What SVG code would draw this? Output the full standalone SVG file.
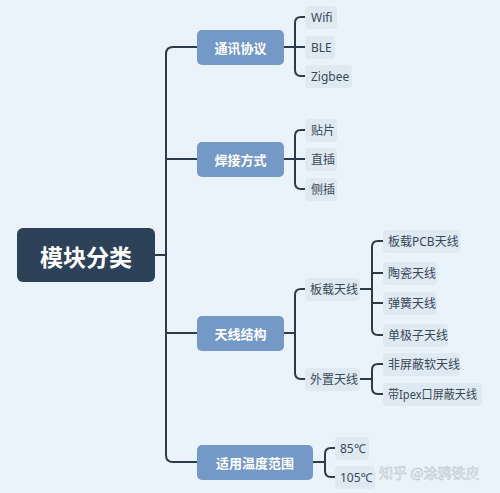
<svg xmlns="http://www.w3.org/2000/svg" width="500" height="493" viewBox="0 0 500 493">
<style>
.l1 rect{fill:#7499C6}
.l1 text{fill:#fff;font-family:"Noto Sans CJK SC","Noto Sans",sans-serif;font-size:13px;font-weight:bold;text-anchor:middle;dominant-baseline:central}
.c rect{fill:#DEE9F2}
.c text{fill:#3B4856;font-family:"Noto Sans","Noto Sans CJK SC",sans-serif;font-size:12px;dominant-baseline:central}
.con path{fill:none;stroke:#2C3B4C;stroke-width:2;stroke-linecap:round}
</style>
<rect width="500" height="493" fill="#E9F3F9"/>
<g class="con">
<path d="M155,255 H166"/>
<path d="M197,47 H173 Q166,47 166,54 V455 Q166,462 173,462 H197"/>
<path d="M166,159 H197"/>
<path d="M166,333 H197"/>
<path d="M284,47 H295"/>
<path d="M305,17 H301 Q295,17 295,23 V70 Q295,76 301,76 H305"/>
<path d="M295,47 H305"/>
<path d="M284,159 H295"/>
<path d="M305,130 H301 Q295,130 295,136 V183 Q295,189 301,189 H305"/>
<path d="M295,159 H305"/>
<path d="M284,333 H295"/>
<path d="M305,289 H301 Q295,289 295,295 V373 Q295,379 301,379 H305"/>
<path d="M360,289 H372"/>
<path d="M383,241 H378 Q372,241 372,247 V329 Q372,335 378,335 H383"/>
<path d="M372,273 H383"/>
<path d="M372,303 H383"/>
<path d="M360,379 H372"/>
<path d="M383,364 H378 Q372,364 372,370 V388 Q372,394 378,394 H383"/>
<path d="M313,462 H325"/>
<path d="M335,448 H331 Q325,448 325,454 V471 Q325,477 331,477 H335"/>
</g>
<g id="root">
<rect x="17" y="228" width="138" height="54" rx="6" fill="#2D4259"/>
<text x="86" y="256" fill="#fff" font-family="'Noto Sans CJK SC',sans-serif" font-size="23" font-weight="bold" text-anchor="middle" dominant-baseline="central">模块分类</text>
</g>
<g id="n-tongxun" class="l1"><rect x="197" y="30" width="87" height="35" rx="5"/><text x="240.5" y="47.5">通讯协议</text></g>
<g id="n-hanjie" class="l1"><rect x="197" y="142" width="87" height="35" rx="5"/><text x="240.5" y="159.5">焊接方式</text></g>
<g id="n-tianxian" class="l1"><rect x="197" y="316" width="87" height="35" rx="5"/><text x="240.5" y="333.5">天线结构</text></g>
<g id="n-wendu" class="l1"><rect x="197" y="445" width="116" height="35" rx="5"/><text x="255" y="462.5">适用温度范围</text></g>
<g id="n-wifi" class="c"><rect x="305" y="6" width="32" height="23" rx="4"/><text x="311" y="17.5">Wifi</text></g>
<g id="n-ble" class="c"><rect x="305" y="36" width="30" height="23" rx="4"/><text x="311" y="47.5">BLE</text></g>
<g id="n-zigbee" class="c"><rect x="305" y="65" width="47" height="23" rx="4"/><text x="311" y="76.5">Zigbee</text></g>
<g id="n-tiepian" class="c"><rect x="305" y="119" width="32" height="23" rx="4"/><text x="311" y="130.5">贴片</text></g>
<g id="n-zhicha" class="c"><rect x="305" y="148" width="32" height="23" rx="4"/><text x="311" y="159.5">直插</text></g>
<g id="n-cecha" class="c"><rect x="305" y="178" width="32" height="23" rx="4"/><text x="311" y="189.5">侧插</text></g>
<g id="n-banzai" class="c"><rect x="305" y="278" width="55" height="23" rx="4"/><text x="310" y="289.5">板载天线</text></g>
<g id="n-waizhi" class="c"><rect x="305" y="368" width="55" height="23" rx="4"/><text x="310" y="379.5">外置天线</text></g>
<g id="n-pcb" class="c"><rect x="383" y="230" width="77" height="23" rx="4"/><text x="388" y="241.5">板载PCB天线</text></g>
<g id="n-taoci" class="c"><rect x="383" y="262" width="54" height="23" rx="4"/><text x="388" y="273.5">陶瓷天线</text></g>
<g id="n-tanhuang" class="c"><rect x="383" y="292" width="54" height="23" rx="4"/><text x="388" y="303.5">弹簧天线</text></g>
<g id="n-danjizi" class="c"><rect x="383" y="324" width="65" height="23" rx="4"/><text x="388" y="335.5">单极子天线</text></g>
<g id="n-feipingbi" class="c"><rect x="383" y="353" width="77" height="23" rx="4"/><text x="388" y="364.5">非屏蔽软天线</text></g>
<g id="n-ipex" class="c"><rect x="383" y="383" width="99" height="23" rx="4"/><text x="388" y="394.5" textLength="89" lengthAdjust="spacingAndGlyphs">带Ipex口屏蔽天线</text></g>
<g id="n-85" class="c"><rect x="335" y="437" width="34" height="23" rx="4"/><text x="340" y="448.5">85℃</text></g>
<g id="n-105" class="c"><rect x="335" y="466" width="40" height="23" rx="4"/><text x="340" y="477.5">105℃</text></g>
<text x="379" y="472" fill="#F4F7FA" stroke="#B9C2CB" stroke-width="0.5" font-family="'Noto Sans CJK SC',sans-serif" font-size="14" dominant-baseline="central">知乎 @涂鸦铁皮</text>
</svg>
